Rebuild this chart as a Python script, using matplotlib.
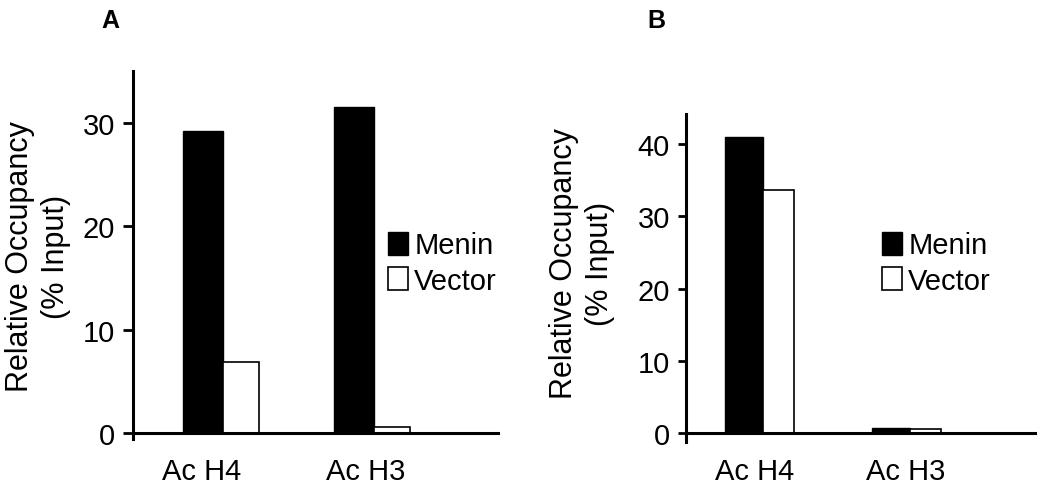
import matplotlib
matplotlib.use("Agg")
import matplotlib.pyplot as plt
import numpy as np

plt.rcParams['font.family'] = ['Liberation Sans', 'DejaVu Sans']

categories = ["Ac H4", "Ac H3"]
series_names = ["Menin", "Vector"]
menin_A = [29.2, 31.5]
vector_A = [6.9, 0.6]
menin_B = [41.0, 0.7]
vector_B = [33.7, 0.55]
yticks_A = [0, 10, 20, 30]
yticks_B = [0, 10, 20, 30, 40]

W, H = 1050, 489
fig = plt.figure(figsize=(W / 100, H / 100), dpi=100)


def px_axes(left, right, top, bottom):
    return fig.add_axes([left / W, 1 - bottom / H, (right - left) / W, (bottom - top) / H])


def panel(ax, menin, vector, yticks, ylim, xlim, wm, wv, label_off, tick_len, ytick_pad, leg_xy,
          letter, letter_xy, ylab_xy):
    x = np.arange(len(categories))
    bm = ax.bar(x, menin, width=-wm, align='edge', color='black', edgecolor='black', linewidth=1.0,
                label=series_names[0], zorder=2)
    bv = ax.bar(x, vector, width=wv, align='edge', color='white', edgecolor='black', linewidth=1.2,
                label=series_names[1], zorder=2)
    ax.set_ylim(*ylim)
    ax.set_xlim(*xlim)
    for s in ['top', 'right']:
        ax.spines[s].set_visible(False)
    ax.spines['bottom'].set_position(('data', 0))
    ax.spines['left'].set_linewidth(2.2)
    ax.spines['bottom'].set_linewidth(2.2)
    ax.spines['bottom'].set_zorder(3)
    ax.set_yticks(yticks)
    ax.set_yticklabels([str(t) for t in yticks])
    ax.tick_params(axis='y', direction='out', length=tick_len, width=2.0, labelsize=21, pad=ytick_pad)
    ax.set_xticks(x + np.array(label_off))
    ax.set_xticklabels(categories)
    ax.tick_params(axis='x', length=0, labelsize=21, pad=17)
    ax.legend(handles=[bm, bv], loc='center left', bbox_to_anchor=(leg_xy[0] / W, 1 - leg_xy[1] / H),
              bbox_transform=fig.transFigure, frameon=False, fontsize=21,
              handlelength=0.7, handleheight=0.85, handletextpad=0.2, labelspacing=0.25,
              borderpad=0, borderaxespad=0)
    fig.text(letter_xy[0] / W, 1 - letter_xy[1] / H, letter, fontsize=18, fontweight='bold',
             ha='center', va='center')
    fig.text(ylab_xy[0] / W, 1 - ylab_xy[1] / H, "Relative Occupancy\n(% Input)", fontsize=22,
             rotation=90, ha='center', va='center', multialignment='center', linespacing=1.22)


axA = px_axes(133, 498, 72, 440)
panel(axA, menin_A, vector_A, yticks_A, (-0.58, 35.0), (-0.596, 1.821), 40 / 151, 36 / 151,
      [-21 / 151, -8 / 151], 7.0, 6, (388, 264), "A", (110, 21), (38, 257))

axB = px_axes(686, 1035, 115, 443)
panel(axB, menin_B, vector_B, yticks_B, (-1.2, 44.16), (-0.524, 1.85), 38 / 147, 31 / 147,
      [-8 / 147, -4 / 147], 5.5, 6, (882, 264), "B", (656, 21), (582, 264))

fig.savefig("out.png", dpi=100)
